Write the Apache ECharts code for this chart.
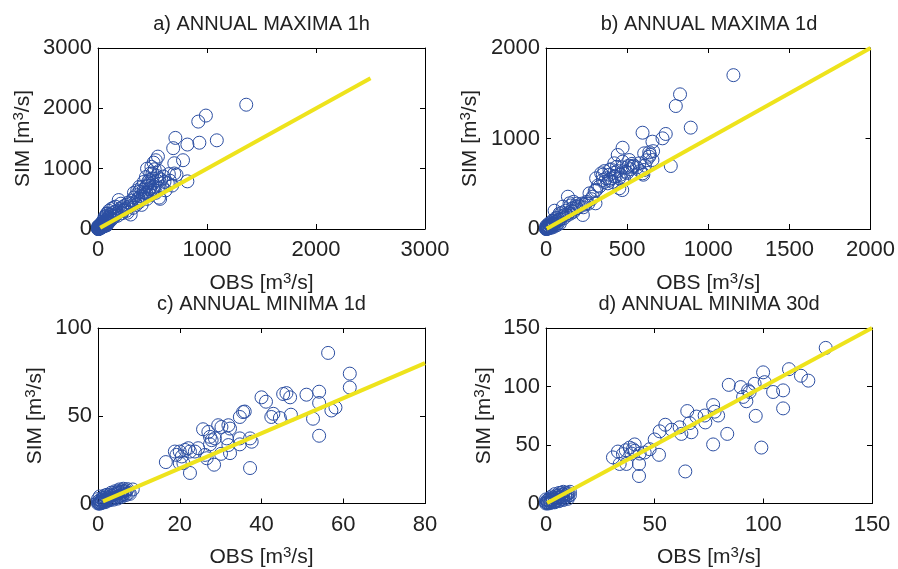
<!DOCTYPE html>
<html>
<head>
<meta charset="utf-8">
<script src="https://cdn.jsdelivr.net/npm/echarts@6/dist/echarts.min.js"></script>
<style>html,body{margin:0;padding:0;background:#fff;}#c{width:898px;height:569px;}</style>
</head>
<body>
<div id="c"></div>
<script>
// ---- data ----
const titles = ['a) ANNUAL MAXIMA 1h', 'b) ANNUAL MAXIMA 1d', 'c) ANNUAL MINIMA 1d', 'd) ANNUAL MINIMA 30d'];
const xMax = [3000, 2000, 80, 150];
const xStep = [1000, 500, 20, 50];
const yMax = [3000, 2000, 100, 150];
const yStep = [1000, 1000, 50, 50];
const lineStart = [20, 4, 1.2, 0.5];
const lineEnd = [2500, 2000, 80, 150];
const xName = 'OBS [m{s|3}/s]';
const yName = 'SIM [m{s|3}/s]';

const pointsA = [[1360,2060],[990,1880],[920,1780],[1090,1470],[930,1430],[820,1400],[710,1510],[690,1340],[780,1140],[700,1090],[820,790],[700,920],[720,900],[550,1200],[530,1140],[490,1030],[450,1000],[520,990],[480,920],[540,880],[560,840],[440,860],[420,780],[470,810],[500,760],[540,800],[580,820],[610,780],[640,760],[680,720],[660,800],[520,700],[480,680],[440,700],[400,690],[380,620],[420,600],[460,620],[500,610],[560,520],[570,500],[430,560],[390,540],[350,560],[330,520],[310,470],[300,420],[280,440],[260,400],[240,380],[220,360],[200,330],[190,480],[210,420],[170,300],[150,280],[130,260],[110,240],[100,200],[90,180],[80,160],[70,140],[60,120],[50,90],[40,70],[30,60],[20,40],[10,20],[100,300],[80,250],[60,200],[120,330],[140,350],[160,370],[260,300],[300,240],[220,260],[180,220],[150,200],[120,150],[90,110],[70,80],[50,60],[30,30],[20,15],[10,10],[5,5],[40,40],[60,50],[80,60],[100,120],[130,170],[160,240],[350,400],[380,450],[400,500],[360,640],[330,600],[450,720],[470,760],[500,840],[250,340],[230,300],[280,360],[15,30],[25,50],[35,80],[45,100],[55,150],[65,180],[75,220],[85,260],[5,15],[10,30],[2,5],[3,2],[8,8],[12,18],[18,25],[25,20],[35,45],[45,55],[55,70],[65,90],[75,100],[0,10],[15,5],[110,170],[140,220],[170,250],[190,280],[240,320],[270,270],[320,350],[340,430],[370,510],[410,540],[440,600],[470,660],[510,650],[530,600],[550,680],[590,700],[620,640],[450,500],[480,560],[600,870],[650,910],[400,400],[360,480],[420,650],[500,920],[510,1100],[460,780],[380,700],[560,960],[0,0],[4,8],[7,3],[12,10],[16,20],[22,30],[28,38],[32,25],[38,55],[42,35],[48,75],[52,45],[58,85],[62,65],[68,110],[72,60],[78,130],[82,90],[88,140],[95,100],[0,20],[6,35],[14,45],[0,40],[20,60],[8,55],[30,90],[40,120]];

const pointsB = [[1155,1700],[826,1488],[800,1359],[892,1120],[595,1064],[738,1050],[718,1002],[656,965],[472,898],[442,818],[605,836],[636,799],[769,696],[595,615],[605,652],[656,762],[636,847],[472,744],[513,762],[421,726],[391,652],[340,615],[309,560],[452,450],[380,505],[493,633],[534,688],[575,726],[421,578],[350,542],[391,542],[437,688],[309,431],[288,357],[268,394],[135,357],[145,284],[227,155],[166,229],[53,202],[247,284],[186,247],[104,247],[84,173],[305,284],[320,480],[360,520],[400,560],[420,620],[440,640],[460,600],[480,560],[500,620],[520,660],[540,700],[560,680],[600,600],[610,700],[620,760],[580,640],[350,600],[370,560],[330,470],[300,420],[280,330],[250,300],[220,280],[200,260],[180,220],[160,200],[140,180],[120,160],[100,140],[90,110],[80,100],[70,90],[60,80],[50,60],[40,50],[30,40],[20,30],[10,15],[5,8],[2,3],[15,10],[25,20],[35,30],[45,35],[60,55],[75,65],[110,120],[130,150],[150,170],[170,190],[190,230],[210,250],[230,240],[240,270],[260,280],[120,200],[100,180],[80,150],[60,120],[40,90],[30,70],[20,50],[10,30],[150,260],[170,300],[190,280],[410,520],[430,580],[450,560],[470,540],[390,600],[360,640],[400,660],[470,680],[510,700],[640,820],[660,860],[470,430],[500,680],[530,720],[0,5],[5,0],[12,5],[0,0],[3,12],[8,20],[15,25],[22,12],[28,45],[35,15],[42,60],[48,25],[55,95],[65,40],[70,120],[85,60],[0,25],[6,40],[18,60]];

const pointsC = [[56.3,85.8],[61.6,74.0],[61.6,66.1],[54.1,63.7],[54.1,57.3],[57.1,53.0],[58.1,54.7],[52.6,48.3],[54.1,38.6],[51.0,62.0],[45.3,62.4],[46.1,62.9],[47.0,60.5],[40.0,60.5],[41.1,58.0],[47.2,50.6],[44.5,48.7],[42.9,51.1],[42.4,49.3],[35.9,52.4],[34.7,49.3],[35.5,52.1],[37.2,37.1],[37.2,20.2],[34.7,37.1],[34.7,33.7],[31.9,44.6],[29.4,44.6],[30.2,43.6],[32.3,42.7],[25.7,42.3],[27.0,40.8],[27.4,38.0],[27.8,36.1],[27.4,33.7],[28.6,37.1],[31.5,37.1],[31.9,33.3],[32.3,28.7],[30.1,28.3],[28.4,22.1],[26.2,27.7],[26.6,25.8],[24.5,31.5],[23.7,29.6],[22.1,31.5],[22.5,29.6],[21.3,30.5],[20.0,29.6],[18.8,29.6],[19.2,27.7],[20.5,26.8],[20.9,23.0],[20.0,23.0],[16.6,23.6],[22.5,17.4],[37.6,35.2],[8.5,8.0],[0.2,0.3],[0.5,0.8],[1,1.5],[1.5,2],[2,2.5],[2.5,3.5],[3,4],[3.5,4.5],[4,5],[4.5,5.5],[5,6],[5.5,6.5],[6,6.8],[6.5,7],[7,7.5],[1,0.5],[2,1.5],[3,2.5],[4,3],[5,4],[6,5],[0.3,0],[0.8,0.2],[1.5,1],[2.5,2],[3.5,3],[4.5,3.5],[5.5,4.5],[2,4],[3,5],[4,6],[5,7],[6,7.5],[1,2.5],[0,1],[0.5,0],[7.5,6],[6.5,5.5],[0,0],[0.5,2],[1.2,3.2],[2.2,5],[3.3,6.2],[4.2,7],[5.2,8],[6.2,8.4],[7.2,8.2],[0.8,1.2],[1.8,0.8],[2.8,1.8],[3.8,2.2],[4.8,2.8],[5.8,3.8],[6.8,4.8],[7.8,5.5],[0,2.5],[0.4,4],[1.6,4.5]];

const pointsD = [[128.7,133.0],[111.8,114.8],[99.9,112.1],[117.3,109.2],[120.7,105.0],[100.6,103.7],[96.0,102.3],[84.1,101.4],[89.6,99.5],[93.0,96.7],[109.1,96.7],[104.5,95.3],[90.7,91.1],[92.2,87.4],[93.7,95.3],[109.1,81.3],[96.5,74.9],[99.1,47.8],[76.9,84.1],[77.6,78.5],[79.2,75.2],[73.0,75.2],[73.3,69.3],[65.0,79.0],[69.2,74.3],[66.1,68.7],[66.9,60.9],[61.5,65.1],[62.3,59.5],[83.4,59.5],[76.9,50.5],[64.1,27.4],[57.8,63.1],[54.9,67.3],[52.3,61.7],[50.0,54.7],[52.0,41.6],[47.7,46.4],[45.4,43.6],[43.1,42.7],[40.8,50.5],[40.0,46.4],[38.5,47.8],[36.7,45.5],[42.8,33.8],[42.8,23.5],[33.1,44.4],[30.8,39.4],[33.9,33.8],[37.0,33.8],[35.4,42.2],[39.3,42.7],[40.8,45.0],[10,9],[11,10],[8,8],[9,7],[7,6],[6,5],[5,5],[4,4],[3,3],[2,2],[1,1],[0.5,0.5],[8,4],[6,3],[4,2],[2,1],[9,5],[10,6],[7,9],[5,7],[3,5],[1,3],[0,1],[1,0],[3,1],[0,0],[7,4],[5,3],[0.5,2.5],[1.5,4],[2.5,6],[4,8],[6,9],[8,10],[9,9],[10,8],[11,7],[2,0.5],[4,1],[6,2],[8,3],[10,4],[0,3.5],[2.5,3.5],[5.5,6.5],[7.5,7.5]];

const allPoints = [pointsA, pointsB, pointsC, pointsD];

// ---- layout ----
const grids = [
  {left: 98, top: 48, width: 327, height: 181},
  {left: 546, top: 48, width: 326, height: 181},
  {left: 98, top: 328, width: 327, height: 178},
  {left: 546, top: 328, width: 326, height: 179}
];
const yNameGap = [63, 64, 51, 50];
const FONT = '"Liberation Sans", Arial, Helvetica, sans-serif';
const TXT = '#222';
const BLUE = '#2b4ea2';
const YELLOW = '#eee31c';
const nameStyle = {
  fontSize: 21, color: TXT, fontFamily: FONT,
  rich: {s: {fontSize: 15, color: TXT, fontFamily: FONT, padding: [0, 0, 9, 0]}}
};

const xAxes = [], yAxes = [], series = [], title = [];
grids.forEach((g, i) => {
  const baseAx = (extra) => Object.assign({
    type: 'value',
    gridIndex: i,
    splitLine: {show: false},
    axisLine: {show: true, onZero: false, lineStyle: {color: '#000', width: 1}},
    axisTick: {show: true, inside: true, length: 5, lineStyle: {color: '#000', width: 1}},
  }, extra);
  const lbl = (m) => ({fontSize: 22, color: TXT, fontFamily: FONT, margin: m,
    showMinLabel: true, showMaxLabel: true, formatter: v => String(v)});
  xAxes.push(baseAx({
    position: 'bottom', min: 0, max: xMax[i], interval: xStep[i],
    axisLabel: lbl(10),
    name: xName, nameLocation: 'middle', nameGap: 42,
    nameTextStyle: nameStyle
  }));
  xAxes.push(baseAx({
    position: 'top', min: 0, max: xMax[i], interval: xStep[i],
    axisLabel: {show: false}
  }));
  yAxes.push(baseAx({
    position: 'left', min: 0, max: yMax[i], interval: yStep[i],
    axisLabel: lbl(6),
    name: yName, nameLocation: 'middle', nameGap: yNameGap[i],
    nameTextStyle: nameStyle
  }));
  yAxes.push(baseAx({
    position: 'right', min: 0, max: yMax[i], interval: yStep[i],
    axisLabel: {show: false}
  }));
  series.push({
    type: 'scatter',
    xAxisIndex: 2 * i, yAxisIndex: 2 * i,
    data: allPoints[i],
    symbol: 'circle', symbolSize: 13,
    clip: false,
    itemStyle: {color: 'rgba(0,0,0,0)', borderColor: BLUE, borderWidth: 1, opacity: 1},
    z: 2, silent: true
  });
  series.push({
    type: 'line',
    xAxisIndex: 2 * i, yAxisIndex: 2 * i,
    data: [[lineStart[i], lineStart[i]], [lineEnd[i], lineEnd[i]]],
    showSymbol: false, symbol: 'none',
    lineStyle: {color: YELLOW, width: 4},
    z: 3, silent: true
  });
  title.push({
    text: titles[i],
    left: g.left + g.width / 2,
    top: g.top - 34,
    padding: 0,
    textAlign: 'center',
    textStyle: {fontSize: 20, fontWeight: 'normal', color: TXT, fontFamily: FONT}
  });
});

const chart = echarts.init(document.getElementById('c'), null, {renderer: 'canvas'});
chart.setOption({
  animation: false,
  backgroundColor: '#fff',
  title: title,
  grid: grids,
  xAxis: xAxes,
  yAxis: yAxes,
  series: series
});
</script>
</body>
</html>
